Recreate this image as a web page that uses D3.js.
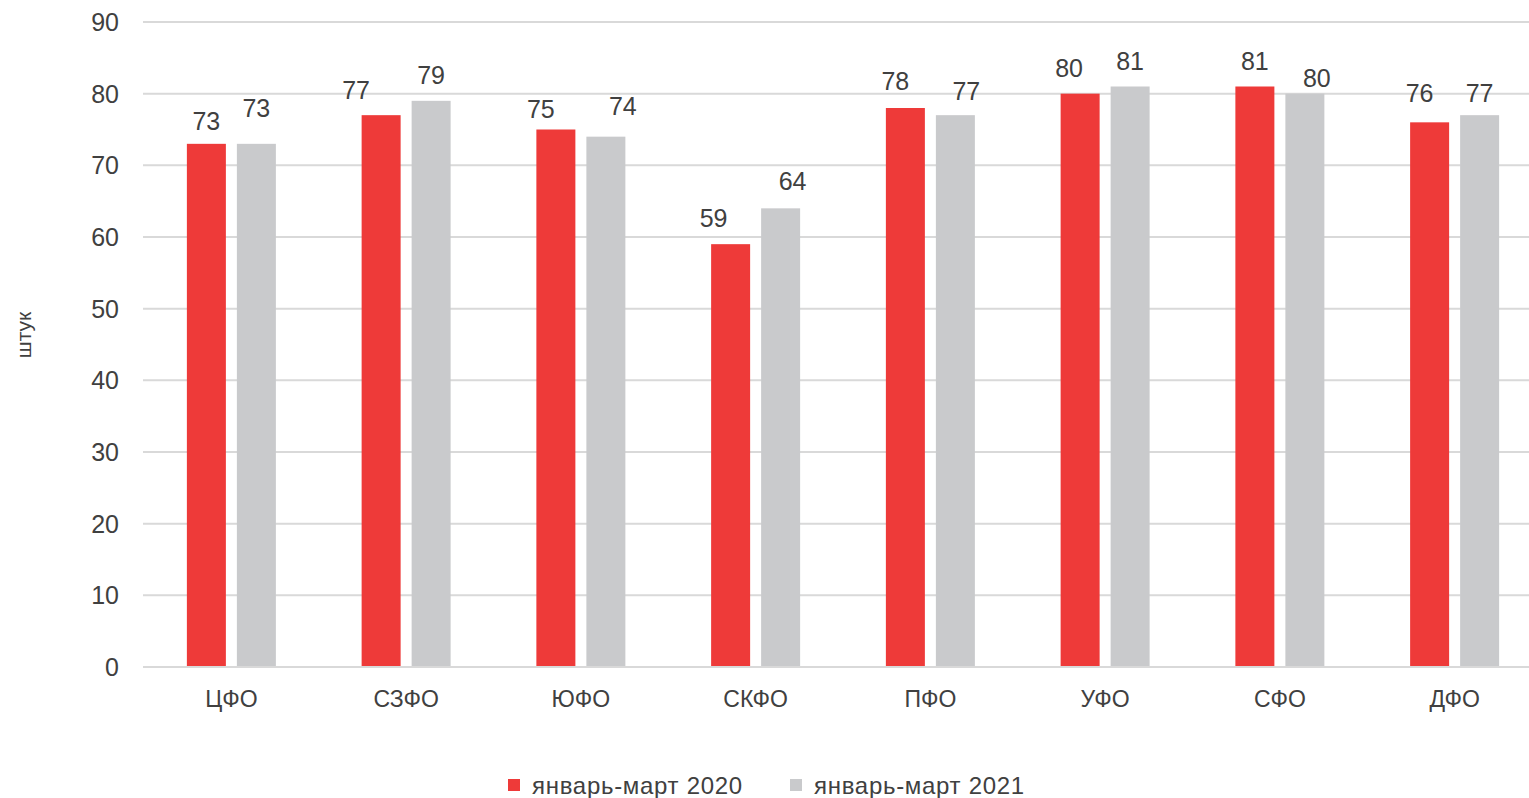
<!DOCTYPE html>
<html><head><meta charset="utf-8">
<script src="https://cdn.jsdelivr.net/npm/d3@7"></script>
<style>body{margin:0;background:#fff;overflow:hidden}svg text{font-family:"Liberation Sans",Arial,sans-serif;fill:#404040}</style>
</head><body><svg id="c" width="1529" height="798"></svg>
<script>
const categories=["ЦФО","СЗФО","ЮФО","СКФО","ПФО","УФО","СФО","ДФО"];
const series2020=[73,77,75,59,78,80,81,76];
const series2021=[73,79,74,64,77,81,80,77];
const seriesNames=["январь-март 2020","январь-март 2021"];
const yTicks=[0,10,20,30,40,50,60,70,80,90];
const colors=["#EE3A39","#C9CACC"];
// manual label nudges (as in the original chart), pixels
const labelDx=[[0,-25,-15,-17,-10,-11,0,-10],[0,0,17,12,11,0,12,0]];
const labelGap=[[23,25,21,26,27,26,26,29],[36,26,31,27,24,26,16,22]];

const svg=d3.select("#c");
const W=1529,H=798;
const x=d3.scaleBand().domain(categories).range([144,1542]);
const y=d3.scaleLinear().domain([0,90]).range([667,22]);
const sub=d3.scaleBand().domain([0,1]).range([-44.5,44.5]).paddingInner(0.22);

svg.append("g").selectAll("line").data(yTicks).join("line")
 .attr("x1",143).attr("x2",W).attr("y1",d=>y(d)).attr("y2",d=>y(d))
 .attr("stroke","#D9D9D9").attr("stroke-width",2);
svg.append("g").selectAll("text").data(yTicks).join("text")
 .attr("x",119).attr("y",d=>y(d)).attr("dy","0.36em").attr("text-anchor","end")
 .attr("font-size",25).text(d=>d);

const data=categories.map((c,i)=>({c,i,v:[series2020[i],series2021[i]]}));
const g=svg.append("g").selectAll("g").data(data).join("g")
 .attr("transform",d=>`translate(${x(d.c)+x.bandwidth()/2},0)`);
g.selectAll("rect").data(d=>d.v.map((v,k)=>({v,k,i:d.i}))).join("rect")
 .attr("x",d=>sub(d.k)).attr("width",sub.bandwidth())
 .attr("y",d=>y(d.v)).attr("height",d=>y(0)-y(d.v)).attr("fill",d=>colors[d.k]);
g.selectAll("text.v").data(d=>d.v.map((v,k)=>({v,k,i:d.i}))).join("text").attr("class","v")
 .attr("x",d=>sub(d.k)+sub.bandwidth()/2+labelDx[d.k][d.i])
 .attr("y",d=>y(d.v)-labelGap[d.k][d.i]).attr("dy","0.36em")
 .attr("text-anchor","middle").attr("font-size",25).text(d=>d.v);

svg.append("line").attr("x1",143).attr("x2",W).attr("y1",y(0)).attr("y2",y(0))
 .attr("stroke","#D9D9D9").attr("stroke-width",2);

svg.append("g").selectAll("text").data(categories).join("text")
 .attr("x",d=>x(d)+x.bandwidth()/2).attr("y",699).attr("dy","0.36em").attr("text-anchor","middle")
 .attr("font-size",23).text(d=>d);

svg.append("text").attr("transform","translate(23,335) rotate(-90)")
 .attr("text-anchor","middle").attr("dy","0.36em").attr("font-size",21).text("штук");

const lg=svg.append("g");
const lx=[508,790];
seriesNames.forEach((n,k)=>{
 lg.append("rect").attr("x",lx[k]).attr("y",779).attr("width",12).attr("height",12).attr("fill",colors[k]);
 lg.append("text").attr("x",lx[k]+24).attr("y",785).attr("dy","0.36em").attr("font-size",24)
  .attr("letter-spacing",0.7).text(n);
});
</script></body></html>
